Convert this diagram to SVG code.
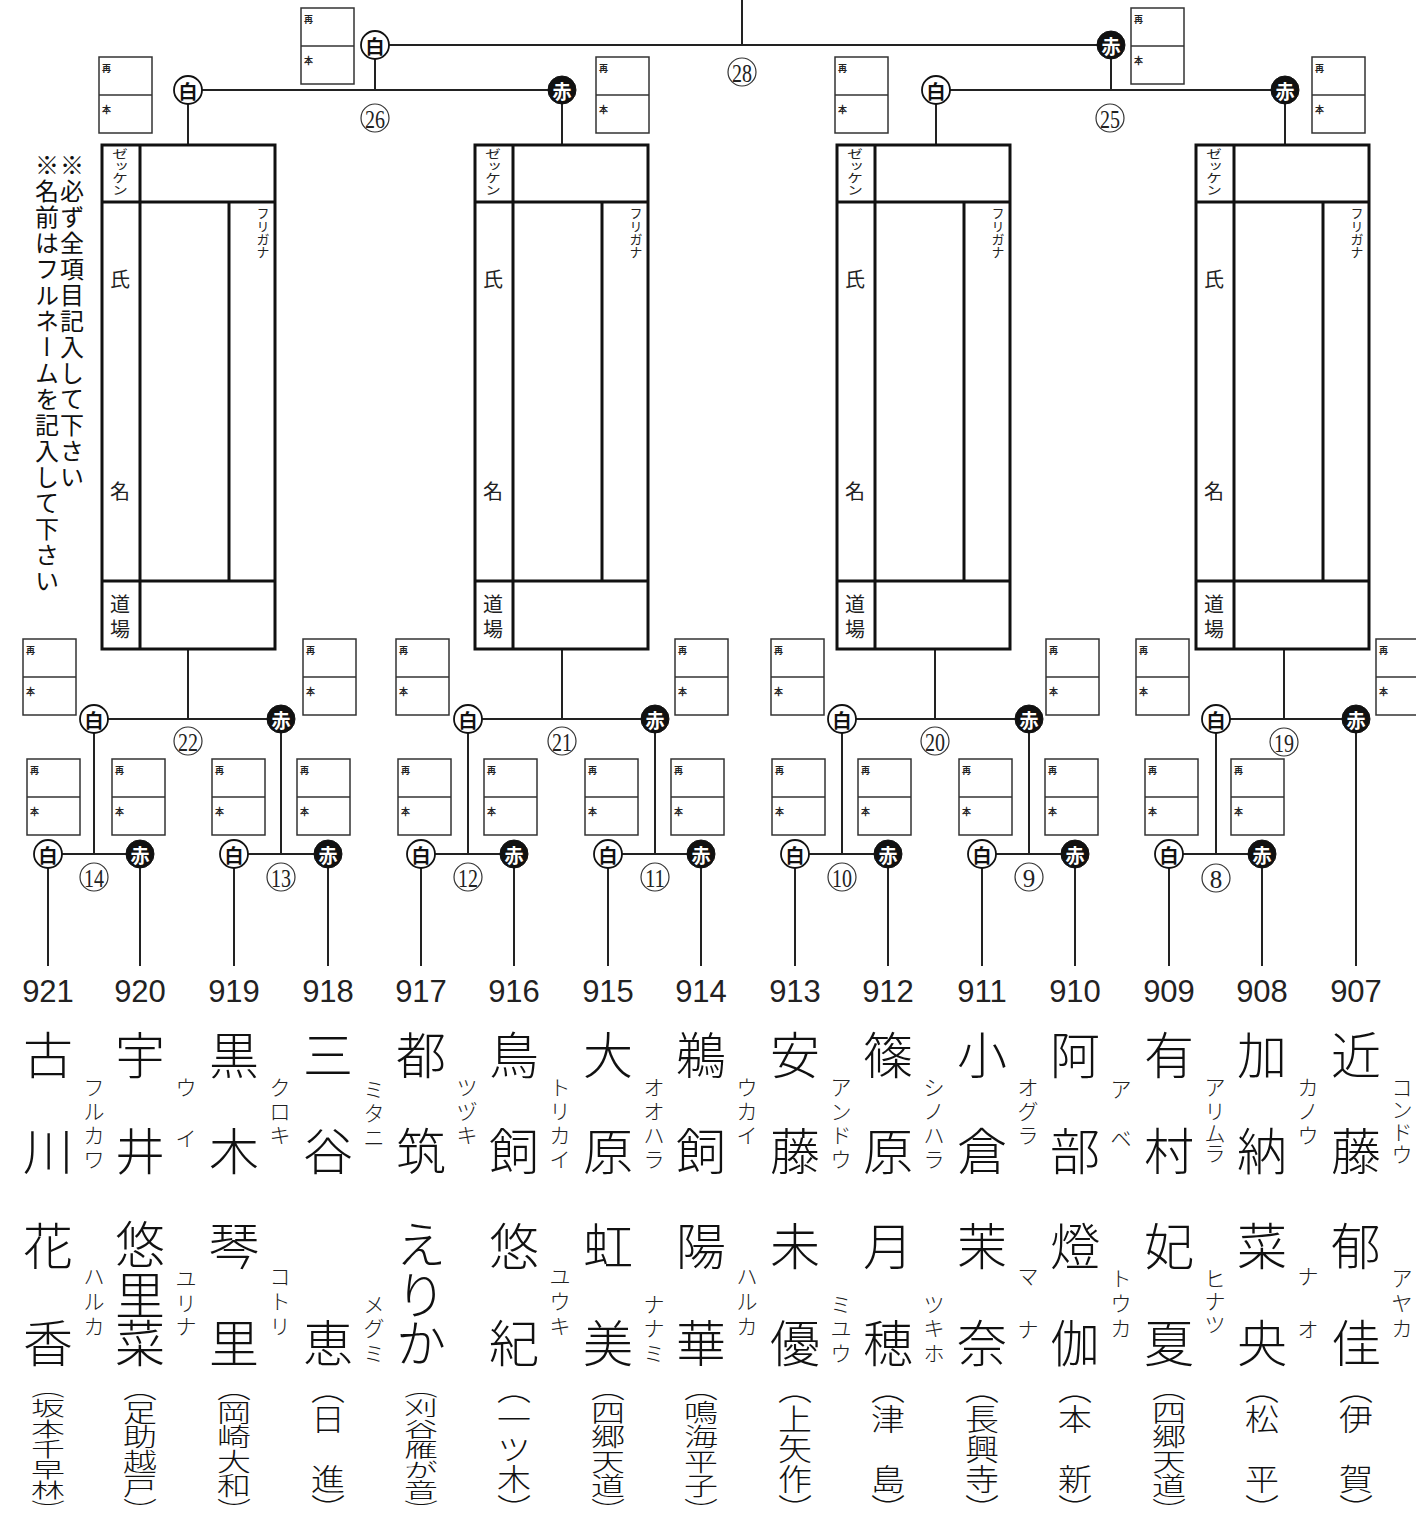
<svg xmlns="http://www.w3.org/2000/svg" xmlns:xlink="http://www.w3.org/1999/xlink" width="1416" height="1526" viewBox="0 0 1416 1526">
<style>
.ln{stroke:#222;stroke-width:2;fill:none}
.bx{fill:none;stroke:#111;stroke-width:3}
.bl{stroke:#111;stroke-width:3}
.sb{fill:#fff;stroke:#333;stroke-width:1.5}
.sbt{font-family:'Noto Sans CJK JP',sans-serif;font-size:9px;font-weight:700;fill:#222;dominant-baseline:central}
.w circle{fill:#fff;stroke:#111;stroke-width:1.8}
.r circle{fill:#111;stroke:#111;stroke-width:1}
.bt{font-family:'Noto Sans CJK JP',sans-serif;font-size:19px;font-weight:700;text-anchor:middle;dominant-baseline:central}
.w .bt{fill:#111}
.r .bt{fill:#fff}
.mn circle{fill:#fff;stroke:#333;stroke-width:1.2}
.mn text{font-family:'Liberation Serif',serif;font-size:25px;text-anchor:middle;dominant-baseline:central;fill:#222}
.num{font-family:'Liberation Sans',sans-serif;font-size:31px;text-anchor:middle;fill:#222}
.kj{font-family:'Noto Sans CJK JP',sans-serif;font-size:50px;font-weight:300;text-anchor:middle;dominant-baseline:central;fill:#111}
.fr{font-family:'Noto Sans CJK JP',sans-serif;font-size:21px;font-weight:300;text-anchor:middle;dominant-baseline:central;fill:#222}
.dj{font-family:'Noto Sans CJK JP',sans-serif;font-size:34px;font-weight:300;writing-mode:vertical-rl;fill:#111}
.lab{font-family:'Noto Sans CJK JP',sans-serif;font-size:20px;text-anchor:middle;dominant-baseline:central;fill:#222}
.vs{font-family:'Noto Sans CJK JP',sans-serif;writing-mode:vertical-rl;fill:#222}
.note{font-family:'Noto Sans CJK JP',sans-serif;font-size:24px;writing-mode:vertical-rl;letter-spacing:2px;fill:#111}
</style>
<defs>
<g id="sbox">
<rect class="sb" x="0" y="0" width="53" height="76"/>
<line class="sb" x1="0" y1="38" x2="53" y2="38"/>
<text class="sbt" x="3" y="11">再</text>
<text class="sbt" x="3" y="52">本</text>
</g>
</defs>

<g id="notes">
<text class="note" x="72" y="153">※必ず全項目記入して下さい</text>
<text class="note" x="47" y="153">※名前はフルネームを記入して下さい</text>
</g>

<g id="connectors">
<line class="ln" x1="742" y1="0" x2="742" y2="45"/>
<line class="ln" x1="375" y1="45" x2="1111" y2="45"/>
<line class="ln" x1="375" y1="45" x2="375" y2="90"/>
<line class="ln" x1="1111" y1="45" x2="1111" y2="90"/>
<line class="ln" x1="188" y1="90" x2="562" y2="90"/>
<line class="ln" x1="936" y1="90" x2="1285" y2="90"/>
<line class="ln" x1="188" y1="90" x2="188" y2="145"/>
<line class="ln" x1="562" y1="90" x2="562" y2="145"/>
<line class="ln" x1="936" y1="90" x2="936" y2="145"/>
<line class="ln" x1="1285" y1="90" x2="1285" y2="145"/>
<line class="ln" x1="188" y1="649" x2="188" y2="719"/>
<line class="ln" x1="562" y1="649" x2="562" y2="719"/>
<line class="ln" x1="935" y1="649" x2="935" y2="719"/>
<line class="ln" x1="1284" y1="649" x2="1284" y2="719"/>
<line class="ln" x1="94" y1="719" x2="281" y2="719"/>
<line class="ln" x1="468" y1="719" x2="655" y2="719"/>
<line class="ln" x1="842" y1="719" x2="1029" y2="719"/>
<line class="ln" x1="1216" y1="719" x2="1356" y2="719"/>
<line class="ln" x1="94" y1="719" x2="94" y2="854"/>
<line class="ln" x1="281" y1="719" x2="281" y2="854"/>
<line class="ln" x1="468" y1="719" x2="468" y2="854"/>
<line class="ln" x1="655" y1="719" x2="655" y2="854"/>
<line class="ln" x1="842" y1="719" x2="842" y2="854"/>
<line class="ln" x1="1029" y1="719" x2="1029" y2="854"/>
<line class="ln" x1="1216" y1="719" x2="1216" y2="854"/>
<line class="ln" x1="1356" y1="719" x2="1356" y2="966"/>
<line class="ln" x1="48" y1="854" x2="140" y2="854"/>
<line class="ln" x1="234" y1="854" x2="328" y2="854"/>
<line class="ln" x1="421" y1="854" x2="514" y2="854"/>
<line class="ln" x1="608" y1="854" x2="701" y2="854"/>
<line class="ln" x1="795" y1="854" x2="888" y2="854"/>
<line class="ln" x1="982" y1="854" x2="1075" y2="854"/>
<line class="ln" x1="1169" y1="854" x2="1262" y2="854"/>
<line class="ln" x1="48" y1="854" x2="48" y2="966"/>
<line class="ln" x1="140" y1="854" x2="140" y2="966"/>
<line class="ln" x1="234" y1="854" x2="234" y2="966"/>
<line class="ln" x1="328" y1="854" x2="328" y2="966"/>
<line class="ln" x1="421" y1="854" x2="421" y2="966"/>
<line class="ln" x1="514" y1="854" x2="514" y2="966"/>
<line class="ln" x1="608" y1="854" x2="608" y2="966"/>
<line class="ln" x1="701" y1="854" x2="701" y2="966"/>
<line class="ln" x1="795" y1="854" x2="795" y2="966"/>
<line class="ln" x1="888" y1="854" x2="888" y2="966"/>
<line class="ln" x1="982" y1="854" x2="982" y2="966"/>
<line class="ln" x1="1075" y1="854" x2="1075" y2="966"/>
<line class="ln" x1="1169" y1="854" x2="1169" y2="966"/>
<line class="ln" x1="1262" y1="854" x2="1262" y2="966"/>
</g>

<g id="scoreboxes">
<use href="#sbox" x="301" y="8"/>
<use href="#sbox" x="1131" y="8"/>
<use href="#sbox" x="99" y="57"/>
<use href="#sbox" x="596" y="57"/>
<use href="#sbox" x="835" y="57"/>
<use href="#sbox" x="1312" y="57"/>
<use href="#sbox" x="23" y="639"/>
<use href="#sbox" x="303" y="639"/>
<use href="#sbox" x="396" y="639"/>
<use href="#sbox" x="675" y="639"/>
<use href="#sbox" x="771" y="639"/>
<use href="#sbox" x="1046" y="639"/>
<use href="#sbox" x="1136" y="639"/>
<use href="#sbox" x="1376" y="639"/>
<use href="#sbox" x="27" y="759"/>
<use href="#sbox" x="112" y="759"/>
<use href="#sbox" x="212" y="759"/>
<use href="#sbox" x="297" y="759"/>
<use href="#sbox" x="398" y="759"/>
<use href="#sbox" x="484" y="759"/>
<use href="#sbox" x="585" y="759"/>
<use href="#sbox" x="671" y="759"/>
<use href="#sbox" x="772" y="759"/>
<use href="#sbox" x="858" y="759"/>
<use href="#sbox" x="959" y="759"/>
<use href="#sbox" x="1045" y="759"/>
<use href="#sbox" x="1145" y="759"/>
<use href="#sbox" x="1231" y="759"/>
</g>

<g id="box-1">
<rect class="bx" x="102" y="145" width="173" height="504"/>
<line class="bl" x1="140" y1="145" x2="140" y2="649"/>
<line class="bl" x1="102" y1="202" x2="275" y2="202"/>
<line class="bl" x1="102" y1="581" x2="275" y2="581"/>
<line class="bl" x1="229" y1="202" x2="229" y2="581"/>
<text class="vs" font-size="16" transform="translate(120,148) scale(1,0.75)">ゼッケン</text>
<text class="vs" font-size="13" transform="translate(263,207)">フリガナ</text>
<text class="lab" x="120" y="278">氏</text>
<text class="lab" x="120" y="490">名</text>
<text class="lab" x="120 120" y="603 628">道場</text>
</g>
<g id="box-2">
<rect class="bx" x="475" y="145" width="173" height="504"/>
<line class="bl" x1="513" y1="145" x2="513" y2="649"/>
<line class="bl" x1="475" y1="202" x2="648" y2="202"/>
<line class="bl" x1="475" y1="581" x2="648" y2="581"/>
<line class="bl" x1="602" y1="202" x2="602" y2="581"/>
<text class="vs" font-size="16" transform="translate(493,148) scale(1,0.75)">ゼッケン</text>
<text class="vs" font-size="13" transform="translate(636,207)">フリガナ</text>
<text class="lab" x="493" y="278">氏</text>
<text class="lab" x="493" y="490">名</text>
<text class="lab" x="493 493" y="603 628">道場</text>
</g>
<g id="box-3">
<rect class="bx" x="837" y="145" width="173" height="504"/>
<line class="bl" x1="875" y1="145" x2="875" y2="649"/>
<line class="bl" x1="837" y1="202" x2="1010" y2="202"/>
<line class="bl" x1="837" y1="581" x2="1010" y2="581"/>
<line class="bl" x1="964" y1="202" x2="964" y2="581"/>
<text class="vs" font-size="16" transform="translate(855,148) scale(1,0.75)">ゼッケン</text>
<text class="vs" font-size="13" transform="translate(998,207)">フリガナ</text>
<text class="lab" x="855" y="278">氏</text>
<text class="lab" x="855" y="490">名</text>
<text class="lab" x="855 855" y="603 628">道場</text>
</g>
<g id="box-4">
<rect class="bx" x="1196" y="145" width="173" height="504"/>
<line class="bl" x1="1234" y1="145" x2="1234" y2="649"/>
<line class="bl" x1="1196" y1="202" x2="1369" y2="202"/>
<line class="bl" x1="1196" y1="581" x2="1369" y2="581"/>
<line class="bl" x1="1323" y1="202" x2="1323" y2="581"/>
<text class="vs" font-size="16" transform="translate(1214,148) scale(1,0.75)">ゼッケン</text>
<text class="vs" font-size="13" transform="translate(1357,207)">フリガナ</text>
<text class="lab" x="1214" y="278">氏</text>
<text class="lab" x="1214" y="490">名</text>
<text class="lab" x="1214 1214" y="603 628">道場</text>
</g>

<g id="badges">
<g class="w"><circle cx="375" cy="45" r="14"/><text class="bt" x="375" y="45">白</text></g>
<g class="r"><circle cx="1111" cy="45" r="14"/><text class="bt" x="1111" y="45">赤</text></g>
<g class="w"><circle cx="188" cy="90" r="14"/><text class="bt" x="188" y="90">白</text></g>
<g class="r"><circle cx="562" cy="90" r="14"/><text class="bt" x="562" y="90">赤</text></g>
<g class="w"><circle cx="936" cy="90" r="14"/><text class="bt" x="936" y="90">白</text></g>
<g class="r"><circle cx="1285" cy="90" r="14"/><text class="bt" x="1285" y="90">赤</text></g>
<g class="w"><circle cx="94" cy="719" r="14"/><text class="bt" x="94" y="719">白</text></g>
<g class="r"><circle cx="281" cy="719" r="14"/><text class="bt" x="281" y="719">赤</text></g>
<g class="w"><circle cx="468" cy="719" r="14"/><text class="bt" x="468" y="719">白</text></g>
<g class="r"><circle cx="655" cy="719" r="14"/><text class="bt" x="655" y="719">赤</text></g>
<g class="w"><circle cx="842" cy="719" r="14"/><text class="bt" x="842" y="719">白</text></g>
<g class="r"><circle cx="1029" cy="719" r="14"/><text class="bt" x="1029" y="719">赤</text></g>
<g class="w"><circle cx="1216" cy="719" r="14"/><text class="bt" x="1216" y="719">白</text></g>
<g class="r"><circle cx="1356" cy="719" r="14"/><text class="bt" x="1356" y="719">赤</text></g>
<g class="w"><circle cx="48" cy="854" r="14"/><text class="bt" x="48" y="854">白</text></g>
<g class="r"><circle cx="140" cy="854" r="14"/><text class="bt" x="140" y="854">赤</text></g>
<g class="w"><circle cx="234" cy="854" r="14"/><text class="bt" x="234" y="854">白</text></g>
<g class="r"><circle cx="328" cy="854" r="14"/><text class="bt" x="328" y="854">赤</text></g>
<g class="w"><circle cx="421" cy="854" r="14"/><text class="bt" x="421" y="854">白</text></g>
<g class="r"><circle cx="514" cy="854" r="14"/><text class="bt" x="514" y="854">赤</text></g>
<g class="w"><circle cx="608" cy="854" r="14"/><text class="bt" x="608" y="854">白</text></g>
<g class="r"><circle cx="701" cy="854" r="14"/><text class="bt" x="701" y="854">赤</text></g>
<g class="w"><circle cx="795" cy="854" r="14"/><text class="bt" x="795" y="854">白</text></g>
<g class="r"><circle cx="888" cy="854" r="14"/><text class="bt" x="888" y="854">赤</text></g>
<g class="w"><circle cx="982" cy="854" r="14"/><text class="bt" x="982" y="854">白</text></g>
<g class="r"><circle cx="1075" cy="854" r="14"/><text class="bt" x="1075" y="854">赤</text></g>
<g class="w"><circle cx="1169" cy="854" r="14"/><text class="bt" x="1169" y="854">白</text></g>
<g class="r"><circle cx="1262" cy="854" r="14"/><text class="bt" x="1262" y="854">赤</text></g>
</g>

<g id="match-numbers">
<g class="mn"><circle cx="742" cy="72" r="14"/><text x="742" y="73" textLength="20" lengthAdjust="spacingAndGlyphs">28</text></g>
<g class="mn"><circle cx="375" cy="118" r="14"/><text x="375" y="119" textLength="20" lengthAdjust="spacingAndGlyphs">26</text></g>
<g class="mn"><circle cx="1110" cy="118" r="14"/><text x="1110" y="119" textLength="20" lengthAdjust="spacingAndGlyphs">25</text></g>
<g class="mn"><circle cx="188" cy="741" r="14"/><text x="188" y="742" textLength="20" lengthAdjust="spacingAndGlyphs">22</text></g>
<g class="mn"><circle cx="562" cy="741" r="14"/><text x="562" y="742" textLength="20" lengthAdjust="spacingAndGlyphs">21</text></g>
<g class="mn"><circle cx="935" cy="741" r="14"/><text x="935" y="742" textLength="20" lengthAdjust="spacingAndGlyphs">20</text></g>
<g class="mn"><circle cx="1284" cy="742" r="14"/><text x="1284" y="743" textLength="20" lengthAdjust="spacingAndGlyphs">19</text></g>
<g class="mn"><circle cx="94" cy="877" r="14"/><text x="94" y="878" textLength="20" lengthAdjust="spacingAndGlyphs">14</text></g>
<g class="mn"><circle cx="281" cy="877" r="14"/><text x="281" y="878" textLength="20" lengthAdjust="spacingAndGlyphs">13</text></g>
<g class="mn"><circle cx="468" cy="877" r="14"/><text x="468" y="878" textLength="20" lengthAdjust="spacingAndGlyphs">12</text></g>
<g class="mn"><circle cx="655" cy="877" r="14"/><text x="655" y="878" textLength="20" lengthAdjust="spacingAndGlyphs">11</text></g>
<g class="mn"><circle cx="842" cy="877" r="14"/><text x="842" y="878" textLength="20" lengthAdjust="spacingAndGlyphs">10</text></g>
<g class="mn"><circle cx="1029" cy="877" r="14"/><text x="1029" y="878">9</text></g>
<g class="mn"><circle cx="1216" cy="878" r="14"/><text x="1216" y="879">8</text></g>
</g>

<g id="p921">
<text class="num" x="48" y="1002">921</text>
<text class="kj" x="48 48" y="1052 1148">古川</text>
<text class="fr" x="94 94 94 94" y="1086 1110 1134 1158">フルカワ</text>
<text class="kj" x="48 48" y="1243 1340">花香</text>
<text class="fr" x="94 94 94" y="1275 1300 1325">ハルカ</text>
<text class="dj" transform="translate(48,1378) scale(1,0.6)">（坂本千早林）</text>
</g>
<g id="p920">
<text class="num" x="140" y="1002">920</text>
<text class="kj" x="140 140" y="1052 1148">宇井</text>
<text class="fr" x="186 186" y="1086 1137">ウイ</text>
<text class="kj" x="140 140 140" y="1241 1292 1340">悠里菜</text>
<text class="fr" x="186 186 186" y="1277 1302 1325">ユリナ</text>
<text class="dj" transform="translate(140,1376) scale(1,0.72)">（足助越戸）</text>
</g>
<g id="p919">
<text class="num" x="234" y="1002">919</text>
<text class="kj" x="234 234" y="1052 1148">黒木</text>
<text class="fr" x="280 280 280" y="1086 1110 1134">クロキ</text>
<text class="kj" x="234 234" y="1243 1340">琴里</text>
<text class="fr" x="280 280 280" y="1275 1300 1325">コトリ</text>
<text class="dj" transform="translate(234,1376) scale(1,0.72)">（岡崎大和）</text>
</g>
<g id="p918">
<text class="num" x="328" y="1002">918</text>
<text class="kj" x="328 328" y="1052 1148">三谷</text>
<text class="fr" x="374 374 374" y="1088 1112 1136">ミタニ</text>
<text class="kj" x="328" y="1340">恵</text>
<text class="fr" x="374 374 374" y="1303 1327 1352">メグミ</text>
<text class="dj" transform="translate(328,1374) scale(1,0.88)">（日　進）</text>
</g>
<g id="p917">
<text class="num" x="421" y="1002">917</text>
<text class="kj" x="421 421" y="1052 1148">都筑</text>
<text class="fr" x="467 467 467" y="1086 1110 1134">ツヅキ</text>
<text class="kj" x="421 421 421" y="1241 1292 1340">えりか</text>
<text class="dj" transform="translate(421,1378) scale(1,0.6)">（刈谷雁が音）</text>
</g>
<g id="p916">
<text class="num" x="514" y="1002">916</text>
<text class="kj" x="514 514" y="1052 1148">鳥飼</text>
<text class="fr" x="560 560 560 560" y="1086 1110 1134 1158">トリカイ</text>
<text class="kj" x="514 514" y="1243 1340">悠紀</text>
<text class="fr" x="560 560 560" y="1275 1300 1325">ユウキ</text>
<text class="dj" transform="translate(514,1374) scale(1,0.88)">（一ツ木）</text>
</g>
<g id="p915">
<text class="num" x="608" y="1002">915</text>
<text class="kj" x="608 608" y="1052 1148">大原</text>
<text class="fr" x="654 654 654 654" y="1086 1110 1134 1158">オオハラ</text>
<text class="kj" x="608 608" y="1243 1340">虹美</text>
<text class="fr" x="654 654 654" y="1303 1327 1352">ナナミ</text>
<text class="dj" transform="translate(608,1376) scale(1,0.72)">（四郷天道）</text>
</g>
<g id="p914">
<text class="num" x="701" y="1002">914</text>
<text class="kj" x="701 701" y="1052 1148">鵜飼</text>
<text class="fr" x="747 747 747" y="1086 1110 1134">ウカイ</text>
<text class="kj" x="701 701" y="1243 1340">陽華</text>
<text class="fr" x="747 747 747" y="1275 1300 1325">ハルカ</text>
<text class="dj" transform="translate(701,1376) scale(1,0.72)">（鳴海平子）</text>
</g>
<g id="p913">
<text class="num" x="795" y="1002">913</text>
<text class="kj" x="795 795" y="1052 1148">安藤</text>
<text class="fr" x="841 841 841 841" y="1086 1110 1134 1158">アンドウ</text>
<text class="kj" x="795 795" y="1243 1340">未優</text>
<text class="fr" x="841 841 841" y="1303 1327 1352">ミユウ</text>
<text class="dj" transform="translate(795,1374) scale(1,0.88)">（上矢作）</text>
</g>
<g id="p912">
<text class="num" x="888" y="1002">912</text>
<text class="kj" x="888 888" y="1052 1148">篠原</text>
<text class="fr" x="934 934 934 934" y="1086 1110 1134 1158">シノハラ</text>
<text class="kj" x="888 888" y="1243 1340">月穂</text>
<text class="fr" x="934 934 934" y="1303 1327 1352">ツキホ</text>
<text class="dj" transform="translate(888,1374) scale(1,0.88)">（津　島）</text>
</g>
<g id="p911">
<text class="num" x="982" y="1002">911</text>
<text class="kj" x="982 982" y="1052 1148">小倉</text>
<text class="fr" x="1028 1028 1028" y="1086 1110 1134">オグラ</text>
<text class="kj" x="982 982" y="1243 1340">茉奈</text>
<text class="fr" x="1028 1028" y="1275 1328">マナ</text>
<text class="dj" transform="translate(982,1374) scale(1,0.88)">（長興寺）</text>
</g>
<g id="p910">
<text class="num" x="1075" y="1002">910</text>
<text class="kj" x="1075 1075" y="1052 1148">阿部</text>
<text class="fr" x="1121 1121" y="1088 1137">アベ</text>
<text class="kj" x="1075 1075" y="1243 1340">燈伽</text>
<text class="fr" x="1121 1121 1121" y="1277 1302 1327">トウカ</text>
<text class="dj" transform="translate(1075,1374) scale(1,0.88)">（本　新）</text>
</g>
<g id="p909">
<text class="num" x="1169" y="1002">909</text>
<text class="kj" x="1169 1169" y="1052 1148">有村</text>
<text class="fr" x="1215 1215 1215 1215" y="1086 1110 1132 1152">アリムラ</text>
<text class="kj" x="1169 1169" y="1243 1340">妃夏</text>
<text class="fr" x="1215 1215 1215" y="1277 1300 1323">ヒナツ</text>
<text class="dj" transform="translate(1169,1376) scale(1,0.72)">（四郷天道）</text>
</g>
<g id="p908">
<text class="num" x="1262" y="1002">908</text>
<text class="kj" x="1262 1262" y="1052 1148">加納</text>
<text class="fr" x="1308 1308 1308" y="1086 1110 1134">カノウ</text>
<text class="kj" x="1262 1262" y="1243 1340">菜央</text>
<text class="fr" x="1308 1308" y="1275 1328">ナオ</text>
<text class="dj" transform="translate(1262,1374) scale(1,0.88)">（松　平）</text>
</g>
<g id="p907">
<text class="num" x="1356" y="1002">907</text>
<text class="kj" x="1356 1356" y="1052 1148">近藤</text>
<text class="fr" x="1402 1402 1402 1402" y="1086 1108 1131 1153">コンドウ</text>
<text class="kj" x="1356 1356" y="1243 1340">郁佳</text>
<text class="fr" x="1402 1402 1402" y="1277 1302 1327">アヤカ</text>
<text class="dj" transform="translate(1356,1374) scale(1,0.88)">（伊　賀）</text>
</g>
</svg>
